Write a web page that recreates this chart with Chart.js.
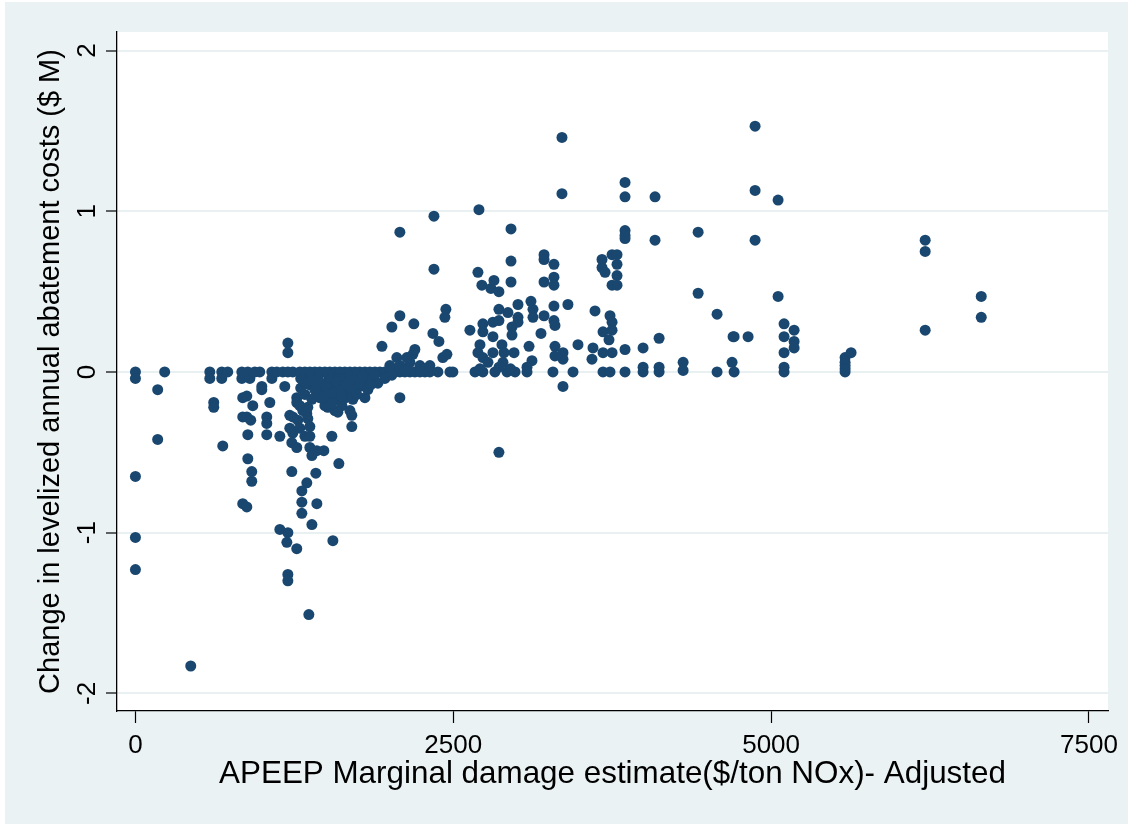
<!DOCTYPE html>
<html>
<head>
<meta charset="utf-8">
<script src="https://cdn.jsdelivr.net/npm/chart.js@4/dist/chart.umd.min.js"></script>
<style>
html,body{margin:0;padding:0;background:#fff;}
#wrap{width:1128px;height:824px;position:relative;}
</style>
</head>
<body>
<div id="wrap"><canvas id="c" width="1128" height="824"></canvas></div>
<script>
// APEEP marginal damage estimate ($/ton NOx) and change in levelized annual abatement costs ($ M)
const damageX = [
  0,0,0,0,0, 175,175,230,435, 585,585,616,616, 679,679,726,687,
  837,837,884,900,939,978, 994,994, 844,876,923, 844,876,907,
  884,884,915,915,844,876,
  1073,1073,1112,1159,1199,1238, 1175,1057, 1033,1033,1033,1136,
  1199,1199, 1269,1269, 1214,1238,1277,1317,1348,1356,
  1214,1238,1293,1333,1372,1372, 1230,1269,1372,1427,1482,
  1388,1545,1600, 1230,1419,1348, 1309,1309,1427,1309,1388,
  1136,1199,1191,1269,1553, 1199,1199,1364,
  1293,1333,1372,1411,1450,1490,1529,1569,1608,1647,1687,1726,1765,1805,
  1844,1884,1923,1962,2001,2041,2080,2119,2159,2198,2238,2277,2316,
  1300,1380,1520,1680,1800,
  1317,1372,1435,1466,1529,1513,1569,1608,1647,1687,1734,1765,1805,1860,1907,1962,2017,
  1333,1388,1450,1490,1545,1592,1655,1710,
  1411,1474,1513,1569,1624,1687,1702,1293,1356,1702,1765,1805,1828,2080,1427,1608,1726,1592,
  1300,1340,1390,1460,1500,1550,1580,1620,1660,1700,1740,1780,1850,1880,
  1939,2056,2135,2182,2198,2001,2080,2119,2159,2238,2277,2316,2418,2450,2379,2474,2497,
  2017,2080,2190,2080,
  3355,3355,3851,3851,2348,2702,2954,3851,3851,3851,
  2348,2954,3214,3214,3292,3670,3670,3694,3749,3788,3788,3788,3749,3788,
  2694,2725,2796,2820,2859,2954,3214,3292,3292,
  2442,2434,2340,2387,2631,2733,2812,2859,2733,
  2859,2930,3009,3009,2962,3009,3111,3127,3127,3214,3292,3292,3300,3402,3615,3733,3749,3749,3678,3725,3190,2962,2812,
  2710,2694,2733,2812,2773,2883,2899,2978,2891,3096,3119,3080,3300,3300,3363,3363,3481,3599,3591,3678,3749,3851,3993,
  2671,2733,2828,2923,2986,3080,3284,3442,3678,3733,3851,3993,3993,3363,2859,
  2710,2860,2950,
  4874,4874,5055,4087,4087,4426,4874,4426,5055,4575,4701,4709,4819,
  5102,5181,5102,5181,5181,5102,4119,4119,4119,4308,4308,4575,4693,4709,5102,5102,
  5582,5582,5582,5582,5582,5629,6212,6212,6212,6653,6653
];
const costY = [
  0,-0.04,-0.65,-1.03,-1.23, -0.11,-0.42,0,-1.83, 0,-0.04,-0.19,-0.22, 0,-0.04,0,-0.46,
  0,-0.04,0,-0.04,0,0, -0.09,-0.11, -0.16,-0.15,-0.21, -0.28,-0.28,-0.30,
  -0.39,-0.54,-0.62,-0.68,-0.82,-0.84,
  0,-0.04,0,0,0,0, -0.09,-0.19, -0.28,-0.32,-0.39,-0.40,
  0.18,0.12, -0.16,-0.19, -0.27,-0.28,-0.30,-0.24,-0.26,-0.29,
  -0.35,-0.38,-0.35,-0.40,-0.40,-0.34, -0.44,-0.47,-0.47,-0.49,-0.49,
  -0.52,-0.40,-0.57, -0.62,-0.63,-0.69, -0.74,-0.81,-0.82,-0.88,-0.95,
  -0.98,-1.00,-1.06,-1.10,-1.05, -1.26,-1.30,-1.51,
  0,0,0,0,0,0,0,0,0,0,0,0,0,0,
  0,0,0,0,0,0,0,0,0,0,0,0,0,
  -0.04,-0.03,-0.03,-0.03,-0.02,
  -0.05,-0.08,-0.04,-0.11,-0.05,-0.14,-0.10,-0.04,-0.12,-0.07,-0.04,-0.09,-0.05,-0.04,-0.07,-0.04,-0.02,
  -0.14,-0.17,-0.16,-0.21,-0.19,-0.16,-0.16,-0.17,
  -0.11,-0.16,-0.22,-0.24,-0.21,-0.24,-0.27,-0.21,-0.22,-0.34,-0.07,-0.16,-0.11,-0.16,-0.08,-0.10,-0.12,-0.25,
  -0.10,-0.07,-0.05,-0.07,-0.09,-0.13,-0.06,-0.15,-0.08,-0.11,-0.14,-0.03,-0.08,-0.02,
  0.16,0.09,0.09,0.11,0.14,0.04,0.04,0.02,0.06,0.04,0.02,0.04,0.09,0.11,0,0,0,
  0.28,0.35,0.30,0.87,
  1.46,1.11,1.18,1.09,0.97,1.01,0.89,0.88,0.85,0.83,
  0.64,0.69,0.73,0.70,0.67,0.70,0.65,0.62,0.73,0.73,0.67,0.60,0.54,0.54,
  0.62,0.54,0.52,0.57,0.50,0.56,0.56,0.59,0.54,
  0.39,0.34,0.24,0.19,0.26,0.30,0.31,0.32,0.25,
  0.39,0.37,0.42,0.34,0.28,0.31,0.44,0.39,0.34,0.35,0.41,0.32,0.29,0.42,0.38,0.35,0.31,0.26,0.25,0.20,0.24,0.23,0.22,
  0.17,0.12,0.09,0.12,0.06,0.17,0.12,0.12,0.06,0.16,0.07,0.03,0.16,0.10,0.12,0.08,0.17,0.15,0.08,0.12,0.12,0.14,0.15,
  0,0,0,0,0,0,0,0,0,0,0,0,0.03,-0.09,-0.50,
  0.02,0.03,0.02,
  1.53,1.13,1.07,1.09,0.82,0.87,0.82,0.49,0.47,0.36,0.22,0.22,0.22,
  0.30,0.26,0.22,0.19,0.15,0.12,0.21,0.03,0,0.06,0.01,0,0.06,0,0.03,0,
  0.09,0.06,0.04,0.02,0,0.12,0.82,0.75,0.26,0.47,0.34
];
const xTickValues = [0, 2500, 5000, 7500];
const yTickValues = [-2, -1, 0, 1, 2];
const xTitle = "APEEP Marginal damage estimate($/ton NOx)- Adjusted";
const yTitle = "Change in levelized annual abatement costs ($ M)";

const points = damageX.map((x, i) => ({x: x, y: costY[i]}));
const FONT = "'Liberation Sans', Arial, Helvetica, sans-serif";

const bgPlugin = {
  id: 'bg',
  beforeDraw(chart) {
    const ctx = chart.ctx, a = chart.chartArea;
    ctx.save();
    ctx.fillStyle = '#ffffff';
    ctx.fillRect(0, 0, chart.width, chart.height);
    ctx.fillStyle = '#EAF2F3';
    ctx.fillRect(5, 2, chart.width - 5, chart.height - 2);
    ctx.fillStyle = '#ffffff';
    ctx.fillRect(a.left, a.top, a.right - a.left, a.bottom - a.top);
    ctx.restore();
  }
};

new Chart(document.getElementById('c'), {
  type: 'scatter',
  data: {
    datasets: [{
      data: points,
      pointRadius: 5.5,
      pointHoverRadius: 5.5,
      pointBackgroundColor: '#1A476F',
      pointBorderWidth: 0,
      pointBorderColor: '#1A476F'
    }]
  },
  plugins: [bgPlugin],
  options: {
    responsive: false,
    animation: false,
    events: [],
    layout: {padding: {left: 0, top: 32, right: 20, bottom: 0}},
    plugins: {legend: {display: false}, tooltip: {enabled: false}},
    scales: {
      x: {
        type: 'linear',
        min: -145,
        max: 7650,
        afterBuildTicks: s => { s.ticks = xTickValues.map(v => ({value: v})); },
        afterFit: s => { s.height = 113; s.paddingLeft = 0; s.paddingRight = 0; },
        ticks: {
          font: {family: FONT, size: 26},
          color: '#000',
          padding: 7,
          maxRotation: 0,
          autoSkip: false,
          callback: v => String(v)
        },
        grid: {
          drawOnChartArea: false,
          drawTicks: true,
          tickLength: 12,
          tickColor: '#000',
          tickWidth: 1.2
        },
        border: {display: true, color: '#000', width: 1.3},
        title: {
          display: true,
          text: xTitle,
          color: '#000',
          font: {family: FONT, size: 31.4},
          padding: {top: 0, bottom: 31}
        }
      },
      y: {
        type: 'linear',
        min: -2.11,
        max: 2.116,
        afterBuildTicks: s => { s.ticks = yTickValues.map(v => ({value: v})); },
        afterFit: s => { s.width = 117; s.paddingTop = 0; s.paddingBottom = 0; },
        ticks: {
          font: {family: FONT, size: 26},
          color: '#000',
          minRotation: 90,
          maxRotation: 90,
          crossAlign: 'center',
          padding: 7,
          callback: v => String(v)
        },
        grid: {
          color: 'rgb(232,240,242)',
          lineWidth: 2,
          drawTicks: true,
          tickLength: 11,
          tickColor: '#000',
          tickWidth: 1.2
        },
        border: {display: true, color: '#000', width: 1.3},
        title: {
          display: true,
          text: yTitle,
          color: '#000',
          font: {family: FONT, size: 29},
          padding: {top: 34, bottom: 0}
        }
      }
    }
  }
});
</script>
</body>
</html>
